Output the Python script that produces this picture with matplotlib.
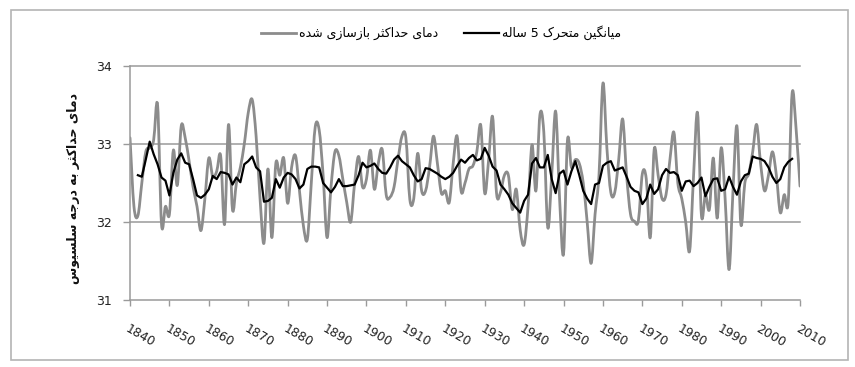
import numpy as np
import matplotlib
matplotlib.use("Agg")
import matplotlib.pyplot as plt
from matplotlib.path import Path
from matplotlib.patches import PathPatch, Rectangle
from matplotlib.lines import Line2D

# reconstructed yearly max temperature, 1840-2010
years = np.arange(1840, 2011)
max_temp = [
    33.08, 32.2, 32.08, 32.5, 32.9, 32.95, 33.05, 33.5, 31.97, 32.2,
    32.1, 32.92, 32.47, 33.23, 33.08, 32.78, 32.45, 32.2, 31.89, 32.3,
    32.82, 32.58, 32.65, 32.85, 31.97, 33.25, 32.16, 32.5, 32.7, 33.0,
    33.4, 33.57, 33.1, 32.3, 31.73, 32.68, 31.8, 32.75, 32.6, 32.82,
    32.24, 32.7, 32.85, 32.4, 31.95, 31.78, 32.5, 33.22, 33.18, 32.6,
    31.8, 32.45, 32.9, 32.85, 32.55, 32.25, 32.0, 32.5, 32.84, 32.45,
    32.55, 32.92, 32.42, 32.75, 32.93, 32.35, 32.32, 32.45, 32.8, 33.1,
    33.08, 32.29, 32.3, 32.88, 32.4, 32.4, 32.7, 33.1, 32.75, 32.37,
    32.4, 32.25, 32.75, 33.1, 32.4, 32.5, 32.68, 32.72, 32.9, 33.24,
    32.37, 32.8, 33.35, 32.37, 32.38, 32.6, 32.6, 32.16, 32.42, 31.9,
    31.71, 32.2, 32.99, 32.4, 33.37, 33.15, 31.93, 32.6, 33.42, 32.3,
    31.59, 33.05, 32.7, 32.8, 32.75, 32.5, 32.0, 31.47, 32.1, 32.6,
    33.78, 32.95, 32.38, 32.38, 32.8, 33.32, 32.6, 32.1, 32.01, 32.02,
    32.62, 32.55, 31.8, 32.93, 32.6, 32.3, 32.35, 32.8, 33.15, 32.5,
    32.3, 32.0, 31.63, 32.6, 33.4, 32.08, 32.35, 32.16, 32.82, 32.05,
    32.95, 32.3, 31.39, 32.4, 33.23, 31.97, 32.5, 32.62, 32.9, 33.25,
    32.75, 32.4, 32.6, 32.9, 32.6, 32.12, 32.35, 32.25, 33.65, 33.2,
    32.46,
]

# 5-year moving average, 1842-2008
ma_years = np.arange(1842, 2009)
ma_temp = [
    32.6, 32.58, 32.8, 33.03, 32.87, 32.74, 32.57, 32.53,
    32.34, 32.63, 32.8, 32.88, 32.76, 32.74, 32.55, 32.34, 32.31, 32.35,
    32.42, 32.59, 32.55, 32.64, 32.63, 32.61, 32.48, 32.57, 32.51, 32.74,
    32.78, 32.84, 32.7, 32.65, 32.26, 32.27, 32.31, 32.55, 32.44, 32.57,
    32.63, 32.61, 32.55, 32.43, 32.48, 32.68, 32.71, 32.71, 32.7, 32.5,
    32.44, 32.38, 32.45, 32.55, 32.46, 32.46, 32.47, 32.48, 32.6, 32.76,
    32.7, 32.72, 32.75, 32.68, 32.63, 32.62, 32.7, 32.8, 32.85, 32.78,
    32.74, 32.7, 32.6, 32.52, 32.55, 32.69, 32.68, 32.65, 32.62, 32.58,
    32.55, 32.58, 32.63, 32.72, 32.8, 32.76, 32.82, 32.86, 32.79, 32.81,
    32.95, 32.85, 32.71, 32.66, 32.48, 32.42, 32.35, 32.24, 32.18, 32.12,
    32.27, 32.35, 32.75, 32.82, 32.7, 32.7, 32.86, 32.55, 32.37, 32.62,
    32.66, 32.48, 32.65, 32.78, 32.6, 32.4, 32.3, 32.23, 32.48, 32.5,
    32.72, 32.76, 32.78, 32.66, 32.68, 32.7, 32.58, 32.45, 32.4, 32.38,
    32.23, 32.3, 32.48, 32.36, 32.42, 32.6, 32.68, 32.63, 32.64, 32.6,
    32.4, 32.52, 32.53, 32.46, 32.5, 32.57, 32.33, 32.45, 32.55, 32.56,
    32.4, 32.42, 32.58, 32.45, 32.35, 32.52, 32.6, 32.62, 32.84, 32.82,
    32.81, 32.78, 32.7, 32.58, 32.5, 32.55, 32.7, 32.77, 32.81,
]

x_ticks = list(range(1840, 2011, 10))
y_ticks = [31, 32, 33, 34]

label_gray = 'دمای حداکثر بازسازی شده'
label_black = 'میانگین متحرک 5 ساله'
label_y = 'دمای حداکثر به درجه سلسیوس'

GRAY = '#8c8c8c'
AXIS = '#9a9a9a'

# minimal arabic shaping (no reshaper lib available) -> presentation forms, visual order
FORMS = {
    '\u0627': ('\uFE8D', '\uFE8E', None, None),
    '\u0628': ('\uFE8F', '\uFE90', '\uFE91', '\uFE92'),
    '\u062A': ('\uFE95', '\uFE96', '\uFE97', '\uFE98'),
    '\u062B': ('\uFE99', '\uFE9A', '\uFE9B', '\uFE9C'),
    '\u062C': ('\uFE9D', '\uFE9E', '\uFE9F', '\uFEA0'),
    '\u062D': ('\uFEA1', '\uFEA2', '\uFEA3', '\uFEA4'),
    '\u062F': ('\uFEA9', '\uFEAA', None, None),
    '\u0631': ('\uFEAD', '\uFEAE', None, None),
    '\u0632': ('\uFEAF', '\uFEB0', None, None),
    '\u0633': ('\uFEB1', '\uFEB2', '\uFEB3', '\uFEB4'),
    '\u0634': ('\uFEB5', '\uFEB6', '\uFEB7', '\uFEB8'),
    '\u0644': ('\uFEDD', '\uFEDE', '\uFEDF', '\uFEE0'),
    '\u0645': ('\uFEE1', '\uFEE2', '\uFEE3', '\uFEE4'),
    '\u0646': ('\uFEE5', '\uFEE6', '\uFEE7', '\uFEE8'),
    '\u0647': ('\uFEE9', '\uFEEA', '\uFEEB', '\uFEEC'),
    '\u0648': ('\uFEED', '\uFEEE', None, None),
    '\u06A9': ('\uFB8E', '\uFB8F', '\uFB90', '\uFB91'),
    '\u06AF': ('\uFB92', '\uFB93', '\uFB94', '\uFB95'),
    '\u06CC': ('\uFBFC', '\uFBFD', '\uFBFE', '\uFBFF'),
}


def shape(text):
    text = text.replace('\u064A', '\u06CC').replace('\u0643', '\u06A9')
    dual = lambda c: c in FORMS and FORMS[c][2] is not None
    out = []
    for i, c in enumerate(text):
        if c not in FORMS:
            out.append(c)
            continue
        prev = text[i - 1] if i > 0 else ''
        nxt = text[i + 1] if i + 1 < len(text) else ''
        jp = dual(prev)
        jn = dual(c) and nxt in FORMS
        iso, fin, ini, med = FORMS[c]
        out.append(med if (jp and jn) else fin if jp else ini if jn else iso)
    return ''.join(reversed(out))


def smooth_path(xs, ys):
    # excel-like smoothed line: cubic bezier through every point
    pts = np.column_stack([xs, ys]).astype(float)
    ext = np.vstack([pts[0], pts, pts[-1]])
    verts = [pts[0]]
    codes = [Path.MOVETO]
    for i in range(len(pts) - 1):
        p0, p1, p2, p3 = ext[i], ext[i + 1], ext[i + 2], ext[i + 3]
        verts += [p1 + (p2 - p0) / 6, p2 - (p3 - p1) / 6, p2]
        codes += [Path.CURVE4] * 3
    return Path(verts, codes)


fig = plt.figure(figsize=(8.55, 3.67), dpi=100)
fig.patches.append(Rectangle((11 / 855, 1 - 360 / 367), 837 / 855, 350 / 367,
                             transform=fig.transFigure, fill=False,
                             ec='#b4b4b4', lw=1.2))

ax = fig.add_axes([130 / 855, 1 - 300 / 367, 670 / 855, 234 / 367])

for v in y_ticks[1:]:
    ax.axhline(v, color=AXIS, lw=1.1, zorder=1, clip_on=False)

ax.add_patch(PathPatch(smooth_path(years, max_temp), fill=False, ec=GRAY,
                       lw=2.0, zorder=2, capstyle='round', joinstyle='round'))
ax.plot(ma_years, ma_temp, color='black', lw=1.6, zorder=3)

ax.set_xlim(1840, 2010)
ax.set_ylim(31, 34)
ax.set_xticks(x_ticks)
ax.set_yticks(y_ticks)
ax.set_xticklabels([str(t) for t in x_ticks], rotation=-30, ha='left',
                   va='top', rotation_mode='anchor')
ax.tick_params(axis='x', direction='out', length=4, width=1, color=AXIS,
               pad=12, labelsize=9, labelcolor='#222222')
ax.tick_params(axis='y', direction='out', length=5, width=1, color=AXIS,
               pad=8, labelsize=9, labelcolor='#222222')
for s in ['top', 'right']:
    ax.spines[s].set_visible(False)
for s in ['left', 'bottom']:
    ax.spines[s].set_color(AXIS)
    ax.spines[s].set_linewidth(1.1)

fig.text(73 / 855, 1 - 188 / 367, shape(label_y), rotation=90, ha='center',
         va='center', fontsize=9, fontweight='bold', color='#111111')

handles = [Line2D([], [], color=GRAY, lw=2.0), Line2D([], [], color='black', lw=1.6)]
fig.legend(handles, [shape(label_gray), shape(label_black)], ncol=2,
           loc='center', bbox_to_anchor=(441 / 855, 1 - 33 / 367), frameon=False,
           fontsize=9, handlelength=2.8, handletextpad=0.3, columnspacing=2.0,
           borderpad=0, borderaxespad=0)

fig.savefig('out.png', dpi=100)
